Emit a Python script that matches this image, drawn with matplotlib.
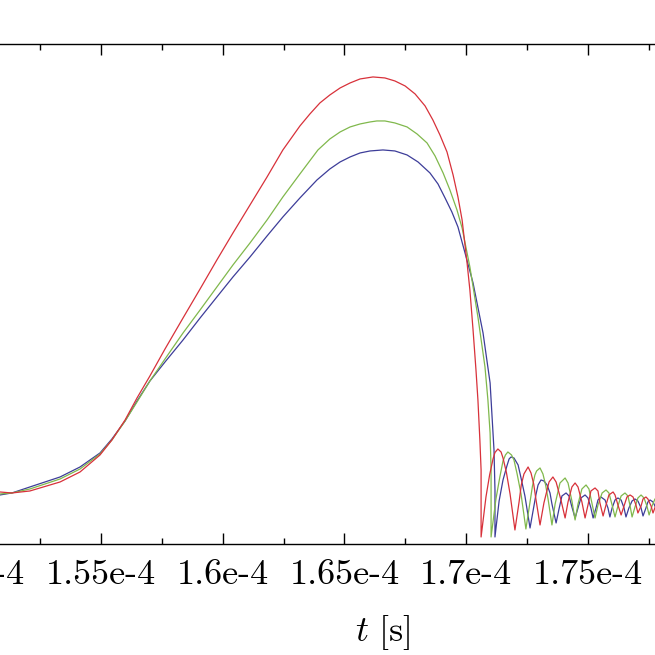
import matplotlib
matplotlib.use("Agg")
import matplotlib.pyplot as plt

plt.rcParams['mathtext.fontset'] = 'cm'

# time values in microseconds, amplitude in arbitrary units
red_t = [150.85, 151.34, 152.08, 153.32, 154.14, 154.96, 155.45, 155.99, 156.48, 157.01,
         157.63, 158.37, 159.07, 159.76, 160.42, 161.12, 161.82, 162.47, 163.17, 163.58,
         163.99, 164.40, 164.82, 165.23, 165.64, 166.17, 166.66, 167.07, 167.49, 167.90,
         168.31, 168.63, 168.92, 169.21, 169.46, 169.66, 169.83, 170.03, 170.15, 170.28,
         170.40, 170.48, 170.56, 170.61, 170.61,
         170.81, 170.96, 171.10, 171.18, 171.30, 171.43, 171.51, 171.65, 171.80, 172.00,
         172.17, 172.26, 172.37, 172.54, 172.66, 172.77, 172.86, 173.03,
         173.19, 173.40, 173.56, 173.69, 173.89, 174.06,
         174.18, 174.34, 174.47, 174.59, 174.75, 174.88,
         175.00, 175.12, 175.29, 175.41, 175.49, 175.62,
         175.74, 175.86, 176.03, 176.11, 176.23, 176.36,
         176.48, 176.60, 176.73, 176.85, 176.97, 177.05,
         177.18, 177.26, 177.38, 177.46, 177.59, 177.67,
         177.79, 177.96]
red_y = [0.104, 0.102, 0.106, 0.124, 0.144, 0.178, 0.208, 0.248, 0.292, 0.336,
         0.390, 0.452, 0.510, 0.568, 0.622, 0.678, 0.734, 0.788, 0.836, 0.860,
         0.882, 0.898, 0.912, 0.922, 0.930, 0.934, 0.932, 0.926, 0.916, 0.900,
         0.876, 0.848, 0.818, 0.784, 0.738, 0.694, 0.648, 0.564, 0.508, 0.428,
         0.348, 0.288, 0.208, 0.148, 0.014,
         0.094, 0.138, 0.170, 0.183, 0.190, 0.184, 0.172, 0.143, 0.100, 0.028,
         0.084, 0.118, 0.140, 0.154, 0.142, 0.120, 0.090, 0.038,
         0.082, 0.124, 0.134, 0.124, 0.088, 0.052,
         0.084, 0.114, 0.122, 0.114, 0.084, 0.052,
         0.078, 0.106, 0.112, 0.106, 0.082, 0.056,
         0.078, 0.098, 0.104, 0.098, 0.078, 0.058,
         0.076, 0.094, 0.098, 0.094, 0.078, 0.062,
         0.076, 0.090, 0.094, 0.090, 0.076, 0.062,
         0.078, 0.090]

green_t = [150.85, 151.34, 152.08, 153.32, 154.14, 154.96, 155.45, 155.99, 156.48, 157.01,
           157.63, 158.37, 159.07, 159.76, 160.42, 161.12, 161.82, 162.47, 163.17, 163.91,
           164.40, 164.82, 165.23, 165.64, 166.05, 166.33, 166.66, 167.07, 167.57, 167.98,
           168.39, 168.72, 169.05, 169.33, 169.62, 169.83, 170.15, 170.48, 170.77, 170.89,
           170.98, 171.02, 171.02,
           171.22, 171.38, 171.51, 171.61, 171.71, 171.86, 171.96, 172.09, 172.25, 172.45,
           172.62, 172.72, 172.82, 172.89, 173.03, 173.15, 173.26, 173.36, 173.52,
           173.65, 173.85, 174.06, 174.18, 174.34, 174.47,
           174.59, 174.75, 174.92, 175.04, 175.16, 175.29,
           175.41, 175.58, 175.74, 175.86, 175.99, 176.11,
           176.23, 176.36, 176.52, 176.64, 176.73, 176.81,
           176.93, 177.05, 177.18, 177.30, 177.42, 177.51,
           177.63, 177.75, 177.88]
green_y = [0.100, 0.102, 0.110, 0.130, 0.150, 0.180, 0.208, 0.246, 0.284, 0.326,
           0.370, 0.422, 0.468, 0.514, 0.558, 0.602, 0.648, 0.694, 0.740, 0.788,
           0.810, 0.824, 0.834, 0.840, 0.844, 0.846, 0.846, 0.842, 0.834, 0.820,
           0.802, 0.776, 0.742, 0.708, 0.668, 0.632, 0.554, 0.454, 0.354, 0.288,
           0.222, 0.148, 0.014,
           0.090, 0.134, 0.166, 0.178, 0.184, 0.178, 0.168, 0.140, 0.100, 0.030,
           0.084, 0.116, 0.138, 0.146, 0.152, 0.140, 0.118, 0.090, 0.038,
           0.080, 0.122, 0.132, 0.122, 0.086, 0.048,
           0.080, 0.110, 0.118, 0.110, 0.082, 0.052,
           0.078, 0.102, 0.108, 0.102, 0.078, 0.054,
           0.076, 0.096, 0.102, 0.096, 0.076, 0.054,
           0.074, 0.092, 0.098, 0.092, 0.076, 0.058,
           0.076, 0.090, 0.094]

blue_t = [150.85, 151.34, 152.08, 153.32, 154.14, 154.96, 155.45, 155.99, 156.48, 157.01,
          157.63, 158.37, 159.07, 159.76, 160.42, 161.12, 161.82, 162.47, 163.17, 163.87,
          164.40, 164.82, 165.23, 165.64, 166.05, 166.58, 167.07, 167.57, 168.02, 168.51,
          168.84, 169.13, 169.41, 169.66, 169.95, 170.28, 170.69, 170.98, 171.14, 171.18,
          171.18,
          171.35, 171.51, 171.67, 171.76, 171.84, 171.96, 172.13, 172.25, 172.41, 172.62,
          172.78, 172.86, 172.95, 173.07, 173.19, 173.32, 173.44, 173.52, 173.69,
          173.81, 173.93, 174.10, 174.22, 174.34, 174.47,
          174.59, 174.71, 174.88, 175.00, 175.12, 175.21,
          175.33, 175.41, 175.53, 175.70, 175.82, 175.90,
          175.99, 176.11, 176.23, 176.36, 176.48, 176.56,
          176.68, 176.81, 176.93, 177.05, 177.18, 177.26,
          177.38, 177.46, 177.55, 177.67, 177.79, 177.88]
blue_y = [0.098, 0.102, 0.114, 0.134, 0.154, 0.182, 0.210, 0.246, 0.286, 0.326,
          0.364, 0.408, 0.452, 0.494, 0.534, 0.574, 0.616, 0.654, 0.692, 0.728,
          0.750, 0.764, 0.774, 0.782, 0.786, 0.788, 0.786, 0.778, 0.764, 0.742,
          0.720, 0.692, 0.664, 0.634, 0.582, 0.522, 0.422, 0.322, 0.188, 0.108,
          0.014,
          0.086, 0.128, 0.156, 0.170, 0.174, 0.172, 0.158, 0.132, 0.096, 0.032,
          0.076, 0.098, 0.118, 0.128, 0.126, 0.118, 0.102, 0.080, 0.042,
          0.070, 0.096, 0.102, 0.096, 0.074, 0.052,
          0.072, 0.092, 0.098, 0.092, 0.072, 0.052,
          0.072, 0.088, 0.094, 0.088, 0.072, 0.054,
          0.072, 0.088, 0.092, 0.088, 0.072, 0.054,
          0.072, 0.086, 0.090, 0.086, 0.072, 0.056,
          0.072, 0.084, 0.088, 0.084, 0.072, 0.056]

major_ticks_us = [150, 155, 160, 165, 170, 175]
major_labels = ["1.5e-4", "1.55e-4", "1.6e-4", "1.65e-4", "1.7e-4", "1.75e-4"]
minor_ticks_us = [152.5, 157.5, 162.5, 167.5, 172.5, 177.5]

us = 1e-6
fig = plt.figure(figsize=(6.55, 6.55), dpi=100)
ax = fig.add_axes([-0.0689, 0.1695, 1.1153, 0.7634])

ax.plot([v * us for v in blue_t], blue_y, color="#3d3d99", lw=0.9)
ax.plot([v * us for v in green_t], green_y, color="#80b84c", lw=0.9)
ax.plot([v * us for v in red_t], red_y, color="#d8313a", lw=0.9)

ax.set_xticks([v * us for v in major_ticks_us])
ax.set_xticklabels(major_labels, fontfamily="cmr10", fontsize=26)
ax.set_xticks([v * us for v in minor_ticks_us], minor=True)
ax.set_yticks([])
ax.set_xlim(149 * us, 179 * us)
ax.set_ylim(0, 1.0)
ax.tick_params(axis="x", which="both", direction="in", top=True, bottom=True, width=1.0)
ax.tick_params(axis="x", which="major", length=8, pad=11)
ax.tick_params(axis="x", which="minor", length=4.5)

for s in ["left", "right"]:
    ax.spines[s].set_visible(False)
for s in ["top", "bottom"]:
    ax.spines[s].set_linewidth(1.0)

ax.set_xlabel(r"$t\ [\mathrm{s}]$", fontsize=26)
ax.xaxis.set_label_coords(0.586, -0.138)

fig.savefig("out.png", dpi=100)
